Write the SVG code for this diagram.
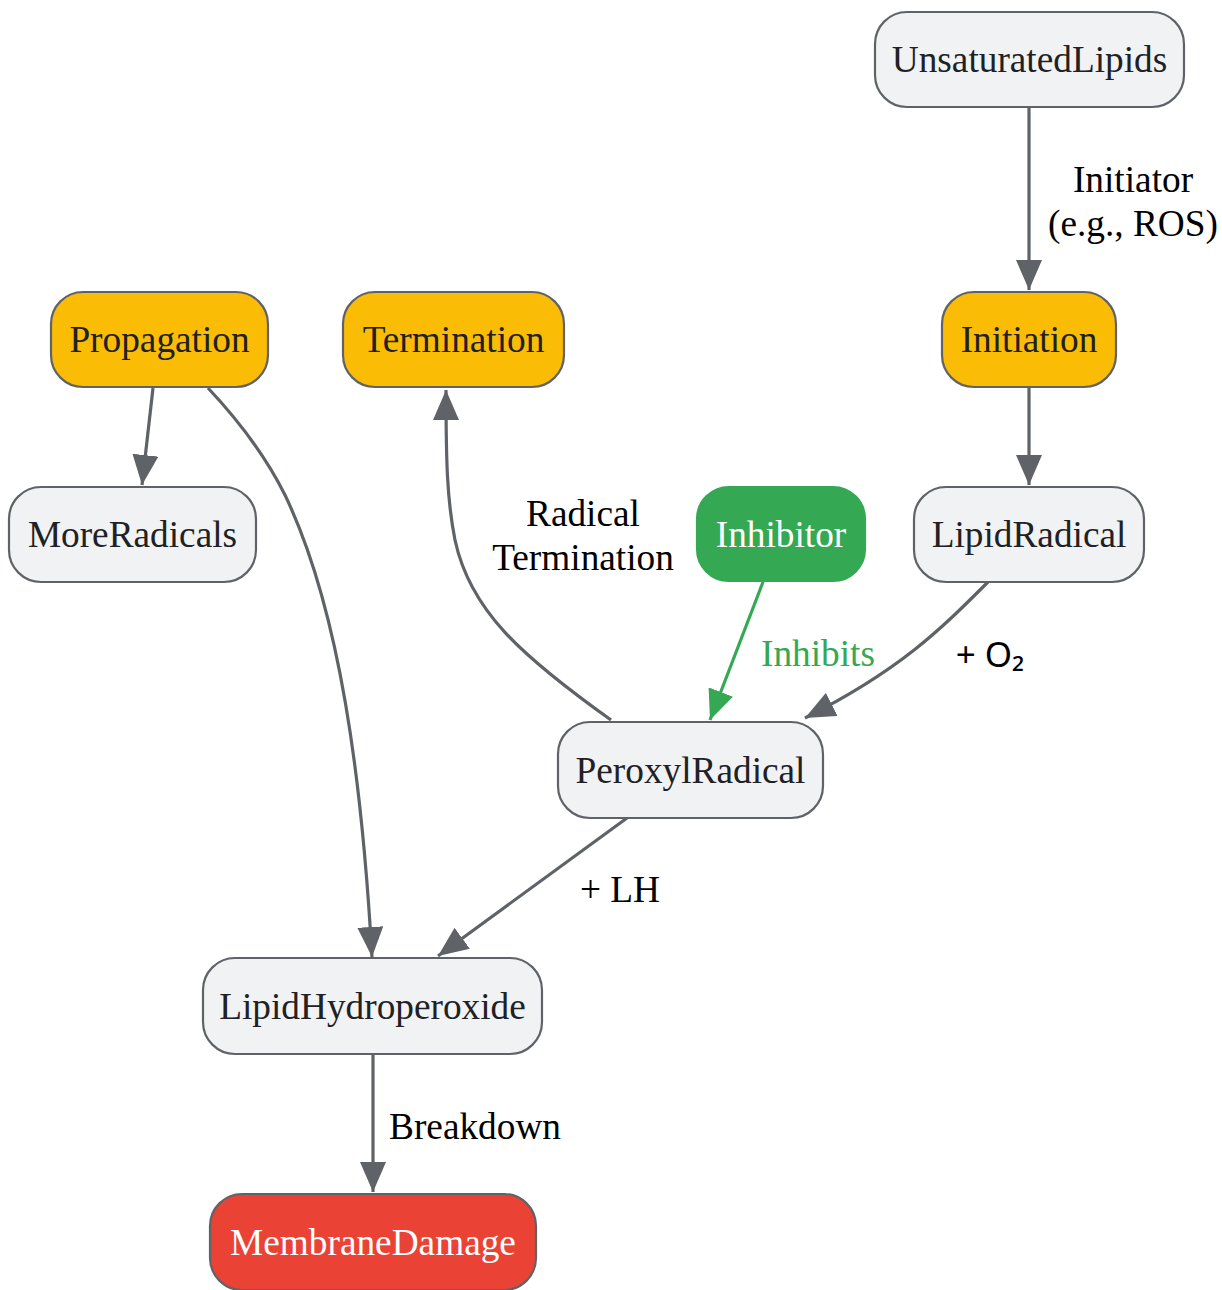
<svg xmlns="http://www.w3.org/2000/svg" width="1222" height="1290" viewBox="0 0 1222 1290">
<defs>
<marker id="ah" markerUnits="userSpaceOnUse" markerWidth="30" markerHeight="26" refX="30" refY="13" orient="auto"><path d="M0,0 L30,13 L0,26 z" fill="#5f6368"/></marker>
<marker id="ahg" markerUnits="userSpaceOnUse" markerWidth="30" markerHeight="26" refX="30" refY="13" orient="auto"><path d="M0,0 L30,13 L0,26 z" fill="#34a853"/></marker>
<style>
.n rect{fill:#f1f2f4;stroke:#5f6368;stroke-width:2.2}
.n text{font-family:"Liberation Serif",serif;font-size:37.3px;fill:#202124;text-anchor:middle;dominant-baseline:central}
.y rect{fill:#fbbc05}
.g rect{fill:#34a853;stroke:#34a853}
.r rect{fill:#ea4335}
.w text{fill:#ffffff}
.e path{fill:none;stroke:#5f6368;stroke-width:3.2}
.e path.gr{stroke:#34a853}
.l{font-family:"Liberation Serif",serif;font-size:37.3px;fill:#000;text-anchor:middle;dominant-baseline:central}
</style>
</defs>
<rect width="1222" height="1290" fill="#ffffff"/>
<g id="connectors" class="e">
<path d="M1029,107 L1029,290" marker-end="url(#ah)"/>
<path d="M1029,387 L1029,485" marker-end="url(#ah)"/>
<path d="M153,388 L142,485" marker-end="url(#ah)"/>
<path d="M208,388 C240,422 265,455 285,495 C340,610 362,780 372,957" marker-end="url(#ah)"/>
<path d="M611,720 C520,655 470,610 455,540 C447,500 446,460 446,390" marker-end="url(#ah)"/>
<path class="gr" d="M763,582 L710,720" marker-end="url(#ahg)"/>
<path d="M988,582 C940,630 900,670 805,718" marker-end="url(#ah)"/>
<path d="M627,818 L438,956" marker-end="url(#ah)"/>
<path d="M373,1054 L373,1192" marker-end="url(#ah)"/>
<text class="l" x="1133" y="179">Initiator</text>
<text class="l" x="1133" y="223">(e.g., ROS)</text>
<text class="l" x="583" y="513">Radical</text>
<text class="l" x="583" y="557">Termination</text>
<text class="l" x="818" y="653" style="fill:#34a853">Inhibits</text>
<text class="l" x="990" y="653" style="font-family:'Noto Sans',sans-serif;font-size:35px">+ O₂</text>
<text class="l" x="620" y="889">+ LH</text>
<text class="l" x="475" y="1126">Breakdown</text>
</g>
<g id="UnsaturatedLipids" class="n"><rect x="875" y="12" width="309" height="95" rx="32"/><text x="1029.5" y="59">UnsaturatedLipids</text></g>
<g id="Initiation" class="n y"><rect x="942" y="292" width="174" height="95" rx="32"/><text x="1029" y="339">Initiation</text></g>
<g id="Propagation" class="n y"><rect x="51" y="292" width="217" height="95" rx="32"/><text x="159.5" y="339">Propagation</text></g>
<g id="Termination" class="n y"><rect x="343" y="292" width="221" height="95" rx="32"/><text x="453.5" y="339">Termination</text></g>
<g id="MoreRadicals" class="n"><rect x="9" y="487" width="247" height="95" rx="32"/><text x="132.5" y="534">MoreRadicals</text></g>
<g id="Inhibitor" class="n g w"><rect x="697" y="487" width="168" height="94" rx="32"/><text x="781" y="534">Inhibitor</text></g>
<g id="LipidRadical" class="n"><rect x="914" y="487" width="230" height="95" rx="32"/><text x="1029" y="534">LipidRadical</text></g>
<g id="PeroxylRadical" class="n"><rect x="558" y="722" width="265" height="96" rx="32"/><text x="690.5" y="770">PeroxylRadical</text></g>
<g id="LipidHydroperoxide" class="n"><rect x="203" y="958" width="339" height="96" rx="32"/><text x="372.5" y="1006">LipidHydroperoxide</text></g>
<g id="MembraneDamage" class="n r w"><rect x="210" y="1194" width="326" height="96" rx="32"/><text x="373" y="1242">MembraneDamage</text></g>
</svg>
